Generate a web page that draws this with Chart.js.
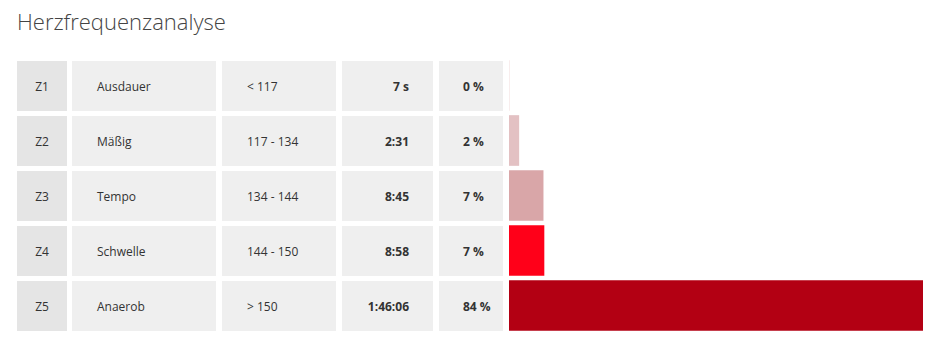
<!DOCTYPE html>
<html>
<head>
<meta charset="utf-8">
<script src="https://cdn.jsdelivr.net/npm/chart.js@4"></script>
<style>
  body { margin: 0; background: #fff; font-family: 'Open Sans', 'Noto Sans', sans-serif; color: #333; }
  #title { position: absolute; left: 17px; top: 6px; font-size: 22px; font-weight: 300; color: #444; }
  .cell { position: absolute; height: 50px; line-height: 52px; font-size: 12px; background: #efefef; box-sizing: border-box; white-space: nowrap; overflow: hidden; }
  .c0 { left: 17px; width: 50px; background: #e5e5e5; text-align: center; }
  .c1 { left: 72px; width: 144px; padding-left: 25px; }
  .c2 { left: 222px; width: 114px; padding-left: 25px; }
  .c3 { left: 342px; width: 91px; padding-right: 24px; text-align: right; font-weight: bold; }
  .c4 { left: 439px; width: 64px; padding-left: 24px; font-weight: bold; }
  #bars { position: absolute; left: 509px; top: 58px; width: 414px; height: 275px; }
</style>
</head>
<body>
<div id="title">Herzfrequenzanalyse</div>
<div id="table"></div>
<div id="bars"><canvas id="main_chart"></canvas></div>
<script>
const zones = ['Z1', 'Z2', 'Z3', 'Z4', 'Z5'];
const zone_names = ['Ausdauer', 'Mäßig', 'Tempo', 'Schwelle', 'Anaerob'];
const hr_ranges = ['< 117', '117 - 134', '134 - 144', '144 - 150', '> 150'];
const time_labels = ['7 s', '2:31', '8:45', '8:58', '1:46:06'];
const percent_labels = ['0 %', '2 %', '7 %', '7 %', '84 %'];
const seconds = [7, 151, 525, 538, 6366];

const bar_colors = ['#f7e8e9', '#e3c1c3', '#d9a6a8', '#ff0019', '#b30013'];

// table cells, left of the bars
const table = document.getElementById('table');
zones.forEach((zone, i) => {
  const row = [zone, zone_names[i], hr_ranges[i], time_labels[i], percent_labels[i]];
  row.forEach((text, col) => {
    const div = document.createElement('div');
    div.className = 'cell c' + col;
    div.style.top = (61 + i * 55) + 'px';
    div.textContent = text;
    table.appendChild(div);
  });
});

new Chart('main_chart', {
  type: 'bar',
  data: {
    labels: zones,
    datasets: [{
      data: seconds,
      backgroundColor: bar_colors,
      borderWidth: 0,
      barThickness: 50,
    }],
  },
  options: {
    indexAxis: 'y',
    responsive: true,
    maintainAspectRatio: false,
    animation: false,
    layout: { padding: 0 },
    plugins: {
      legend: { display: false },
      tooltip: { enabled: false },
    },
    scales: {
      x: { display: false, min: 0, max: Math.max(...seconds) },
      y: { display: false },
    },
  },
});
</script>
</body>
</html>
